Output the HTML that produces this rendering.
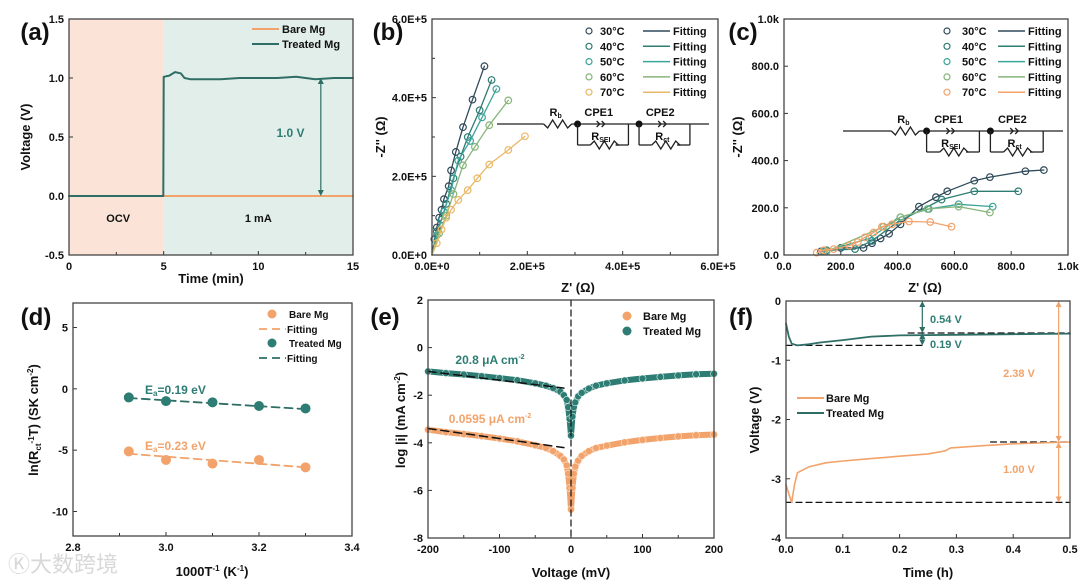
<!DOCTYPE html>
<html><head><meta charset="utf-8"><style>
body{margin:0;background:#fff;width:1080px;height:582px;overflow:hidden}
svg{font-family:"Liberation Sans","Noto Sans CJK SC",sans-serif;font-weight:bold}
</style></head><body>
<svg id="fig" width="1080" height="582" viewBox="0 0 1080 582" xmlns="http://www.w3.org/2000/svg"></svg>
<script>
// ---------- data ----------
// (a)
const aTreatedT=[0,4.98,5.0,5.3,5.6,5.9,6.1,6.4,7,8,9,10,11,12,12.5,13,14,15];
const aTreatedV=[0,0,1.01,1.02,1.05,1.04,1.0,0.99,0.99,0.99,1.0,1.0,1.0,1.01,1.0,0.99,1.0,1.0];
const aBareT=[5,15];
const aBareV=[0,0];
// (b) units 1e5 ohm
const bTemps=['30°C','40°C','50°C','60°C','70°C'];
const bX=[[0.05,0.1,0.15,0.2,0.25,0.35,0.4,0.5,0.65,0.85,1.1],[0.1,0.2,0.3,0.45,0.6,0.75,1.0,1.25],[0.1,0.25,0.4,0.55,0.8,1.05,1.35],[0.15,0.3,0.45,0.65,0.9,1.2,1.6],[0.1,0.2,0.3,0.4,0.55,0.75,0.95,1.2,1.6,1.95]];
const bY=[[0.4,0.7,0.95,1.15,1.42,1.75,2.15,2.62,3.25,3.95,4.8],[0.6,0.9,1.3,1.95,2.5,3.0,3.68,4.45],[0.5,1.1,1.65,2.4,2.9,3.5,4.22],[0.55,1.0,1.55,2.28,2.75,3.3,3.93],[0.3,0.65,0.95,1.15,1.4,1.65,1.95,2.3,2.67,3.02]];
// (c) ohm
const cX=[[130,200,280,310,340,370,410,475,535,575,670,725,850,915],[150,250,310,400,555,670,825],[140,300,410,510,615,735],[150,350,410,505,615,725],[115,140,175,230,260,285,315,345,380,440,515,590]];
const cY=[[15,30,30,50,70,90,130,205,245,270,315,330,355,360],[20,25,60,140,235,270,270],[15,70,160,195,215,205],[15,120,160,195,205,180],[10,20,25,40,55,75,95,120,130,142,140,120]];
// (d)
const dX=[2.92,3.0,3.1,3.2,3.3];
const dTreated=[-0.7,-1.0,-1.1,-1.4,-1.6];
const dBare=[-5.1,-5.8,-6.1,-5.8,-6.4];
const dTreatedFit=[-0.75,-1.65];
const dBareFit=[-5.3,-6.4];
// (e)
const eV=[-200,-175,-150,-125,-100,-75,-50,-35,-25,-15,-10,-6,-4,-2,0,2,4,6,10,15,25,35,50,75,100,125,150,175,200];
const eTreated=[-1.0,-1.07,-1.13,-1.2,-1.28,-1.37,-1.5,-1.6,-1.7,-1.85,-2.0,-2.2,-2.5,-3.0,-3.7,-2.9,-2.5,-2.3,-2.05,-1.9,-1.72,-1.6,-1.5,-1.38,-1.3,-1.23,-1.17,-1.12,-1.1];
const eBare=[-3.45,-3.55,-3.63,-3.72,-3.82,-3.94,-4.1,-4.22,-4.35,-4.55,-4.7,-4.95,-5.3,-5.9,-6.8,-5.9,-5.3,-5.0,-4.75,-4.55,-4.35,-4.22,-4.12,-3.98,-3.88,-3.8,-3.73,-3.68,-3.65];
// (f)
const fTreatedT=[0,0.005,0.01,0.02,0.04,0.06,0.1,0.15,0.2,0.3,0.4,0.5];
const fTreatedV=[-0.38,-0.6,-0.72,-0.75,-0.73,-0.7,-0.66,-0.6,-0.58,-0.57,-0.56,-0.55];
const fBareT=[0,0.005,0.01,0.015,0.02,0.04,0.07,0.1,0.15,0.2,0.25,0.28,0.29,0.35,0.4,0.5];
const fBareV=[-3.1,-3.25,-3.4,-3.1,-2.9,-2.8,-2.73,-2.7,-2.66,-2.62,-2.58,-2.53,-2.48,-2.44,-2.41,-2.38];

// ---------- helpers ----------
const NS='http://www.w3.org/2000/svg';
const svg=document.getElementById('fig');
function mk(tag,attrs,name,parent){
  const el=document.createElementNS(NS,tag);
  for(const k in attrs) el.setAttribute(k,attrs[k]);
  
  
  (parent||svg).appendChild(el);
  return el;
}
function txt(x,y,s,size,fill,anchor,name,extra){
  const t=mk('text',Object.assign({x:x,y:y,'font-size':size,fill:fill||'#111','text-anchor':anchor||'middle'},extra||{}),name);
  t.innerHTML=s;
  return t;
}
function scale(d0,d1,p0,p1){return v=>p0+(v-d0)/(d1-d0)*(p1-p0);}
function axes(o){
  const sx=scale(o.xmin,o.xmax,o.x0,o.x1), sy=scale(o.ymin,o.ymax,o.y1,o.y0);
  o.xt.forEach((v,i)=>{
    mk('line',{x1:sx(v),x2:sx(v),y1:o.y1,y2:o.y1-4,stroke:'#333','stroke-width':1},o.id+'-x-tick');
    txt(sx(v),o.y1+15,o.xl[i],11,'#111','middle',o.id+'-x-tick-label');
  });
  o.yt.forEach((v,i)=>{
    mk('line',{x1:o.x0,x2:o.x0+4,y1:sy(v),y2:sy(v),stroke:'#333','stroke-width':1},o.id+'-y-tick');
    txt(o.x0-5,sy(v)+4,o.yl[i],11,'#111','end',o.id+'-y-tick-label');
  });
  return {sx,sy};
}
function frame(o){mk('rect',{x:o.x0,y:o.y0,width:o.x1-o.x0,height:o.y1-o.y0,fill:'none',stroke:'#444','stroke-width':1.3},o.id+'-plot-frame');}
function poly(xs,ys,sx,sy,stroke,w,name,dash){
  const pts=xs.map((x,i)=>sx(x).toFixed(1)+','+sy(ys[i]).toFixed(1)).join(' ');
  const a={points:pts,fill:'none',stroke:stroke,'stroke-width':w,'stroke-linejoin':'round','stroke-linecap':'round'};
  if(dash)a['stroke-dasharray']=dash;
  return mk('polyline',a,name);
}
function ytitle(x,y,s,name){txt(x,y,s,13,'#111','middle',name,{transform:`rotate(-90 ${x} ${y})`});}
function arrowV(x,y1,y2,col,name){
  mk('line',{x1:x,x2:x,y1:y1+5,y2:y2-5,stroke:col,'stroke-width':1.2},name);
  mk('polygon',{points:`${x-3},${y1+6} ${x+3},${y1+6} ${x},${y1}`,fill:col},name+'-head-top');
  mk('polygon',{points:`${x-3},${y2-6} ${x+3},${y2-6} ${x},${y2}`,fill:col},name+'-head-bottom');
}
function circuit(x0,x1,y,name){
  const g=mk('g',{stroke:'#222','stroke-width':1.3,fill:'none'},name);
  const L=(a,b,c,d)=>{mk('line',{x1:a,y1:b,x2:c,y2:d},name+'-wire',g);};
  const w=x1-x0;
  const rb0=x0+w*0.22, rb1=rb0+28;
  L(x0,y,rb0,y);
  mk('polyline',{points:`${rb0},${y} ${rb0+4},${y+4} ${rb0+9},${y-4} ${rb0+14},${y+4} ${rb0+19},${y-4} ${rb0+24},${y+4} ${rb1},${y}`},'resistor-rb',g);
  const n1=x0+w*0.38, n2=x0+w*0.67;
  L(rb1,y,x1,y);
  [n1,n2].forEach((n,i)=>{
    mk('circle',{cx:n,cy:y,r:3.5,fill:'#111',stroke:'none'},'circuit-node',g);
    const e=n+w*0.24;
    L(n,y,n,y+21); L(e,y,e,y+21);
    L(n,y+21,n+w*0.06,y+21); L(e-w*0.06,y+21,e,y+21);
    const r0=n+w*0.06;
    mk('polyline',{points:`${r0},${y+21} ${r0+4},${y+17} ${r0+9},${y+25} ${r0+14},${y+17} ${r0+19},${y+25} ${r0+24},${y+17} ${r0+28},${y+21} ${e-w*0.06},${y+21}`},'resistor',g);
    const cp=n+w*0.09;
    mk('polyline',{points:`${cp},${y-3} ${cp+3},${y} ${cp},${y+3}`},'cpe-symbol',g);
    mk('polyline',{points:`${cp+5},${y-3} ${cp+8},${y} ${cp+5},${y+3}`},'cpe-symbol',g);
  });
  txt(rb0+12,y-8,'R<tspan font-size="7" dy="2">b</tspan>',11,'#111','middle',name+'-rb-label');
  txt(n1+w*0.1,y-8,'CPE1',11,'#111','middle',name+'-cpe1-label');
  txt(n2+w*0.1,y-8,'CPE2',11,'#111','middle',name+'-cpe2-label');
  txt(n1+w*0.11,y+16,'R<tspan font-size="7" dy="2">SEI</tspan>',11,'#111','middle',name+'-rsei-label');
  txt(n2+w*0.11,y+16,'R<tspan font-size="7" dy="2">ct</tspan>',11,'#111','middle',name+'-rct-label');
}

// ---------- panel (a) ----------
const A={id:'a',x0:69,x1:353,y0:19,y1:255,xmin:0,xmax:15,ymin:-0.5,ymax:1.5,xt:[0,5,10,15],xl:['0','5','10','15'],yt:[-0.5,0,0.5,1,1.5],yl:['-0.5','0.0','0.5','1.0','1.5']};
{
  const sx=scale(A.xmin,A.xmax,A.x0,A.x1);
  mk('rect',{x:sx(0),y:A.y0,width:sx(5)-sx(0),height:A.y1-A.y0,fill:'#fbe4d7'},'ocv-region');
  mk('rect',{x:sx(5),y:A.y0,width:sx(15)-sx(5),height:A.y1-A.y0,fill:'#e2eeea'},'current-region');
  const s=axes(A);
  [2.5,7.5,12.5].forEach(v=>mk('line',{x1:sx(v),x2:sx(v),y1:A.y1,y2:A.y1-3,stroke:'#333'},'a-minor-tick'));
  poly(aBareT,aBareV,s.sx,s.sy,'#f2a36b',2,'bare-mg-line');
  poly(aTreatedT,aTreatedV,s.sx,s.sy,'#2e6e66',2,'treated-mg-line');
  arrowV(s.sx(13.3),s.sy(1.0),s.sy(0),'#2e6e66','voltage-arrow');
  txt(s.sx(11.7),s.sy(0.5),'1.0 V',12,'#2e7d74','middle','voltage-label-1v');
  txt(s.sx(2.6),s.sy(-0.22),'OCV',11,'#111','middle','ocv-label');
  txt(s.sx(10),s.sy(-0.22),'1 mA',11,'#111','middle','current-label');
  mk('line',{x1:252,x2:279,y1:29,y2:29,stroke:'#f2a36b','stroke-width':2},'legend-bare-line');
  txt(282,33,'Bare Mg',11,'#111','start','legend-bare');
  mk('line',{x1:252,x2:279,y1:44,y2:44,stroke:'#2e6e66','stroke-width':2},'legend-treated-line');
  txt(282,48,'Treated Mg',11,'#111','start','legend-treated');
  frame(A);
  txt(211,283,'Time (min)',13,'#111','middle','a-x-axis-title');
  ytitle(30,137,'Voltage (V)','a-y-axis-title');
  txt(35,40,'(a)',24,'#111','middle','panel-label-a');
}

// ---------- panel (b) ----------
const tempCols=['#2f4a5a','#2e7d74','#3aa59a','#86b57a','#e9b866'];
const B={id:'b',x0:432,x1:718,y0:19,y1:255,xmin:0,xmax:6,ymin:0,ymax:6,xt:[0,2,4,6],xl:['0.0E+0','2.0E+5','4.0E+5','6.0E+5'],yt:[0,2,4,6],yl:['0.0E+0','2.0E+5','4.0E+5','6.0E+5']};
{
  const s=axes(B);
  [1,3,5].forEach(v=>{mk('line',{x1:s.sx(v),x2:s.sx(v),y1:B.y1,y2:B.y1-3,stroke:'#333'},'b-minor-tick');mk('line',{x1:B.x0,x2:B.x0+3,y1:s.sy(v),y2:s.sy(v),stroke:'#333'},'b-minor-tick');});
  bX.forEach((xs,i)=>{
    poly([0].concat(xs),[0].concat(bY[i]),s.sx,s.sy,tempCols[i],1.3,'b-fit-'+i);
    xs.forEach((x,j)=>mk('circle',{cx:s.sx(x),cy:s.sy(bY[i][j]),r:3.3,fill:'none',stroke:tempCols[i],'stroke-width':1.2},'b-point'));
  });
  circuit(497,709,124,'b-circuit');
  bTemps.forEach((t,i)=>{
    const y=31+i*15.3;
    mk('circle',{cx:589,cy:y,r:3,fill:'none',stroke:tempCols[i],'stroke-width':1.2},'b-legend-marker');
    txt(600,y+4,t,11,'#111','start','b-legend-temp');
    mk('line',{x1:643,x2:670,y1:y,y2:y,stroke:tempCols[i],'stroke-width':1.5},'b-legend-line');
    txt(673,y+4,'Fitting',11,'#111','start','b-legend-fitting');
  });
  frame(B);
  txt(578,292,"Z' (Ω)",13,'#111','middle','b-x-axis-title');
  ytitle(385,137,"-Z'' (Ω)",'b-y-axis-title');
  txt(388,40,'(b)',24,'#111','middle','panel-label-b');
}

// ---------- panel (c) ----------
const cCols=['#2f4a5a','#2e7d74','#3aa59a','#86b57a','#f2a36b'];
const C={id:'c',x0:784,x1:1068,y0:19,y1:255,xmin:0,xmax:1000,ymin:0,ymax:1000,xt:[0,200,400,600,800,1000],xl:['0.0','200.0','400.0','600.0','800.0','1.0k'],yt:[0,200,400,600,800,1000],yl:['0.0','200.0','400.0','600.0','800.0','1.0k']};
{
  const s=axes(C);
  cX.forEach((xs,i)=>{
    poly(xs,cY[i],s.sx,s.sy,cCols[i],1.3,'c-fit-'+i);
    xs.forEach((x,j)=>mk('circle',{cx:s.sx(x),cy:s.sy(cY[i][j]),r:3.3,fill:'none',stroke:cCols[i],'stroke-width':1.2},'c-point'));
  });
  circuit(843,1063,131,'c-circuit');
  bTemps.forEach((t,i)=>{
    const y=31+i*15.3;
    mk('circle',{cx:947,cy:y,r:3,fill:'none',stroke:cCols[i],'stroke-width':1.2},'c-legend-marker');
    txt(962,y+4,t,11,'#111','start','c-legend-temp');
    mk('line',{x1:998,x2:1025,y1:y,y2:y,stroke:cCols[i],'stroke-width':1.5},'c-legend-line');
    txt(1028,y+4,'Fitting',11,'#111','start','c-legend-fitting');
  });
  frame(C);
  txt(925,292,"Z' (Ω)",13,'#111','middle','c-x-axis-title');
  ytitle(742,137,"-Z'' (Ω)",'c-y-axis-title');
  txt(743,40,'(c)',24,'#111','middle','panel-label-c');
}

// ---------- panel (d) ----------
const D={id:'d',x0:73,x1:352,y0:303,y1:536,xmin:2.8,xmax:3.4,ymin:-12,ymax:7,xt:[2.8,3.0,3.2,3.4],xl:['2.8','3.0','3.2','3.4'],yt:[5,0,-5,-10],yl:['5','0','-5','-10']};
{
  txt(8,572,'Ⓚ大数跨境',22,'#d8d8d8','start','watermark',{'font-weight':'normal'});
  const s=axes(D);
  [2.9,3.1,3.3].forEach(v=>mk('line',{x1:s.sx(v),x2:s.sx(v),y1:D.y1,y2:D.y1-3,stroke:'#333'},'d-minor-tick'));
  poly([dX[0],dX[4]],dTreatedFit,s.sx,s.sy,'#2e6e66',1.8,'d-treated-fit','8,5');
  poly([dX[0],dX[4]],dBareFit,s.sx,s.sy,'#f2a36b',1.8,'d-bare-fit','8,5');
  dX.forEach((x,i)=>{
    mk('circle',{cx:s.sx(x),cy:s.sy(dTreated[i]),r:5,fill:'#2e7d74'},'d-treated-point');
    mk('circle',{cx:s.sx(x),cy:s.sy(dBare[i]),r:5,fill:'#f2a36b'},'d-bare-point');
  });
  txt(145,394,'E<tspan font-size="8" dy="2">a</tspan><tspan dy="-2">=0.19 eV</tspan>',12,'#2e7d74','start','d-ea-treated-label');
  txt(145,450,'E<tspan font-size="8" dy="2">a</tspan><tspan dy="-2">=0.23 eV</tspan>',12,'#f2a36b','start','d-ea-bare-label');
  mk('circle',{cx:272,cy:314,r:4.5,fill:'#f2a36b'},'d-legend-bare-marker');
  txt(289,318,'Bare Mg',10,'#111','start','d-legend-bare');
  mk('line',{x1:259,x2:286,y1:329,y2:329,stroke:'#f2a36b','stroke-width':1.8,'stroke-dasharray':'8,5'},'d-legend-bare-fit-line');
  txt(287,333,'Fitting',10,'#111','start','d-legend-bare-fit');
  mk('circle',{cx:272,cy:343,r:4.5,fill:'#2e7d74'},'d-legend-treated-marker');
  txt(289,347,'Treated Mg',10,'#111','start','d-legend-treated');
  mk('line',{x1:259,x2:286,y1:358,y2:358,stroke:'#2e6e66','stroke-width':1.8,'stroke-dasharray':'8,5'},'d-legend-treated-fit-line');
  txt(287,362,'Fitting',10,'#111','start','d-legend-treated-fit');
  frame(D);
  txt(212,576,'1000T<tspan font-size="8" dy="-5">-1</tspan><tspan dy="5"> (K</tspan><tspan font-size="8" dy="-5">-1</tspan><tspan dy="5">)</tspan>',13,'#111','middle','d-x-axis-title');
  ytitle(38,420,'ln(R<tspan font-size="8" dy="3">ct</tspan><tspan font-size="8" dy="-7">-1</tspan><tspan dy="4">T) (SK cm</tspan><tspan font-size="8" dy="-5">-2</tspan><tspan dy="5">)</tspan>','d-y-axis-title');
  txt(36,325,'(d)',24,'#111','middle','panel-label-d');
}

// ---------- panel (e) ----------
const E={id:'e',x0:428,x1:714,y0:300,y1:538,xmin:-200,xmax:200,ymin:-8,ymax:2,xt:[-200,-100,0,100,200],xl:['-200','-100','0','100','200'],yt:[2,0,-2,-4,-6,-8],yl:['2','0','-2','-4','-6','-8']};
{
  const s=axes(E);
  [-150,-50,50,150].forEach(v=>mk('line',{x1:s.sx(v),x2:s.sx(v),y1:E.y1,y2:E.y1-3,stroke:'#333'},'e-minor-tick'));
  poly(eV,eTreated,s.sx,s.sy,'#2e7d74',6,'e-treated-curve');
  poly(eV,eBare,s.sx,s.sy,'#f2a36b',6,'e-bare-curve');
  eV.forEach((v,i)=>{
    mk('circle',{cx:s.sx(v),cy:s.sy(eTreated[i]),r:3.5,fill:'#2e7d74',stroke:'#d8ece8','stroke-width':0.6},'e-treated-point');
    mk('circle',{cx:s.sx(v),cy:s.sy(eBare[i]),r:3.5,fill:'#f2a36b',stroke:'#fde3cf','stroke-width':0.6},'e-bare-point');
  });
  poly([-200,-10],[-1.0,-1.7],s.sx,s.sy,'#111',1.5,'e-treated-tafel-fit','8,5');
  poly([-200,-10],[-3.4,-4.2],s.sx,s.sy,'#111',1.5,'e-bare-tafel-fit','8,5');
  poly([0,0],[2,-8],s.sx,s.sy,'#111',1.2,'e-zero-line','6,4');
  txt(490,364,'20.8 μA cm<tspan font-size="7" dy="-5">-2</tspan>',12,'#2e7d74','middle','e-treated-icorr-label');
  txt(490,423,'0.0595 μA cm<tspan font-size="7" dy="-5">-2</tspan>',12,'#f2a36b','middle','e-bare-icorr-label');
  mk('circle',{cx:627,cy:316,r:4.5,fill:'#f2a36b'},'e-legend-bare-marker');
  txt(643,320,'Bare Mg',11,'#111','start','e-legend-bare');
  mk('circle',{cx:627,cy:331,r:4.5,fill:'#2e7d74'},'e-legend-treated-marker');
  txt(643,335,'Treated Mg',11,'#111','start','e-legend-treated');
  frame(E);
  txt(571,577,'Voltage (mV)',13,'#111','middle','e-x-axis-title');
  ytitle(405,420,'log |i|  (mA cm<tspan font-size="8" dy="-5">-2</tspan><tspan dy="5">)</tspan>','e-y-axis-title');
  txt(385,325,'(e)',24,'#111','middle','panel-label-e');
}

// ---------- panel (f) ----------
const F={id:'f',x0:786,x1:1070,y0:301,y1:538,xmin:0,xmax:0.5,ymin:-4,ymax:0,xt:[0,0.1,0.2,0.3,0.4,0.5],xl:['0.0','0.1','0.2','0.3','0.4','0.5'],yt:[0,-1,-2,-3,-4],yl:['0','-1','-2','-3','-4']};
{
  const s=axes(F);
  poly([0,0.24],[-0.75,-0.75],s.sx,s.sy,'#111',1.2,'f-treated-min-line','6,4');
  poly([0.215,0.5],[-0.54,-0.54],s.sx,s.sy,'#111',1.2,'f-treated-plateau-line','6,4');
  poly([0,0.5],[-3.4,-3.4],s.sx,s.sy,'#111',1.2,'f-bare-min-line','6,4');
  poly([0.36,0.5],[-2.38,-2.38],s.sx,s.sy,'#111',1.2,'f-bare-plateau-line','6,4');
  poly(fBareT,fBareV,s.sx,s.sy,'#f2a36b',1.6,'f-bare-line');
  poly(fTreatedT,fTreatedV,s.sx,s.sy,'#2e6e66',1.8,'f-treated-line');
  arrowV(s.sx(0.24),s.sy(0),s.sy(-0.54),'#2e6e66','f-arrow-054');
  arrowV(s.sx(0.24),s.sy(-0.54),s.sy(-0.75),'#2e6e66','f-arrow-019');
  arrowV(s.sx(0.48),s.sy(0),s.sy(-2.38),'#f2a36b','f-arrow-238');
  arrowV(s.sx(0.48),s.sy(-2.38),s.sy(-3.4),'#f2a36b','f-arrow-100');
  txt(930,323,'0.54 V',11,'#2e7d74','start','f-label-054');
  txt(930,348,'0.19 V',11,'#2e7d74','start','f-label-019');
  txt(1019,377,'2.38 V',11,'#f2a36b','middle','f-label-238');
  txt(1019,473,'1.00 V',11,'#f2a36b','middle','f-label-100');
  mk('line',{x1:797,x2:824,y1:398,y2:398,stroke:'#f2a36b','stroke-width':2},'f-legend-bare-line');
  txt(826,402,'Bare Mg',11,'#111','start','f-legend-bare');
  mk('line',{x1:797,x2:824,y1:413,y2:413,stroke:'#2e6e66','stroke-width':2},'f-legend-treated-line');
  txt(826,417,'Treated Mg',11,'#111','start','f-legend-treated');
  frame(F);
  txt(928,577,'Time (h)',13,'#111','middle','f-x-axis-title');
  ytitle(759,420,'Voltage (V)','f-y-axis-title');
  txt(741,325,'(f)',24,'#111','middle','panel-label-f');
}
</script>
</body></html>
